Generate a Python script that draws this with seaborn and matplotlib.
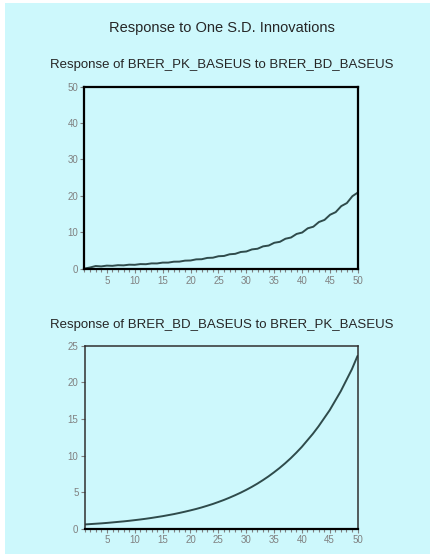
import pandas as pd
import matplotlib.pyplot as plt
import seaborn as sns
from matplotlib.patches import Rectangle
from matplotlib.ticker import MultipleLocator

periods = list(range(1, 51))

# Response of BRER_PK_BASEUS to BRER_BD_BASEUS (wiggly one)
pk_to_bd = [0.00, 0.30, 0.70, 0.60, 0.81, 0.75, 0.93, 0.88, 1.07, 1.03,
            1.23, 1.20, 1.42, 1.41, 1.64, 1.64, 1.89, 1.91, 2.18, 2.22,
            2.53, 2.57, 2.93, 2.99, 3.39, 3.47, 3.93, 4.05, 4.56, 4.70,
            5.27, 5.45, 6.11, 6.33, 7.09, 7.35, 8.20, 8.54, 9.52, 9.91,
            11.07, 11.51, 12.80, 13.38, 14.80, 15.51, 17.17, 18.00, 19.91, 20.93]

# Response of BRER_BD_BASEUS to BRER_PK_BASEUS
bd_to_pk = [0.62, 0.67, 0.72, 0.77, 0.83, 0.90, 0.97, 1.04, 1.12, 1.21,
            1.30, 1.40, 1.51, 1.63, 1.75, 1.89, 2.03, 2.19, 2.36, 2.54,
            2.73, 2.94, 3.17, 3.41, 3.68, 3.96, 4.27, 4.60, 4.95, 5.33,
            5.74, 6.18, 6.66, 7.17, 7.73, 8.32, 8.96, 9.65, 10.4, 11.2,
            12.1, 13.0, 14.0, 15.1, 16.2, 17.5, 18.8, 20.3, 21.8, 23.6]

titulo = "Response to One S.D. Innovations"
sub1 = "Response of BRER_PK_BASEUS to BRER_BD_BASEUS"
sub2 = "Response of BRER_BD_BASEUS to BRER_PK_BASEUS"

bg = "#CDF8FC"
cor_linha = "#2F4B4B"
cor_tick = "#808080"

sns.set_style("ticks")
plt.rcParams["font.family"] = ["Liberation Sans", "DejaVu Sans"]

fig = plt.figure(figsize=(4.31, 5.54), dpi=100)
fig.patch.set_facecolor(bg)
# faixa branca no topo e na esquerda
fig.patches.append(Rectangle((0, 1 - 3 / 554), 1, 3 / 554, transform=fig.transFigure,
                             facecolor="white", edgecolor="none"))
fig.patches.append(Rectangle((0, 0), 5 / 431, 1, transform=fig.transFigure,
                             facecolor="white", edgecolor="none"))

fig.text(222 / 431, 1 - 28 / 554, titulo, ha="center", va="center", fontsize=10.5)
fig.text(222 / 431, 1 - 65 / 554, sub1, ha="center", va="center", fontsize=9.5)
fig.text(222 / 431, 1 - 325 / 554, sub2, ha="center", va="center", fontsize=9.5)

ax1 = fig.add_axes([84.5 / 431, 1 - 269.3 / 554, 273.5 / 431, 182.6 / 554])
ax2 = fig.add_axes([84.7 / 431, 1 - 529 / 554, 272.8 / 431, 183.3 / 554])

df1 = pd.DataFrame({"periodo": periods, "resp": pk_to_bd})
df2 = pd.DataFrame({"periodo": periods, "resp": bd_to_pk})

sns.lineplot(data=df1, x="periodo", y="resp", ax=ax1, color=cor_linha, linewidth=1.4)
sns.lineplot(data=df2, x="periodo", y="resp", ax=ax2, color=cor_linha, linewidth=1.4)

ax1.set_ylim(-0.2, 50)
ax1.yaxis.set_major_locator(MultipleLocator(10))
ax2.set_ylim(0, 25)
ax2.yaxis.set_major_locator(MultipleLocator(5))

for ax, lw, cor in ((ax1, 1.6, "black"), (ax2, 1.1, "#303030")):
    ax.set_facecolor(bg)
    ax.set_xlim(1, 50)
    ax.xaxis.set_major_locator(MultipleLocator(5))
    ax.xaxis.set_minor_locator(MultipleLocator(1))
    ax.set_xlabel("")
    ax.set_ylabel("")
    for s in ax.spines.values():
        s.set_visible(True)
        s.set_color(cor)
        s.set_linewidth(lw)
    ax.spines["bottom"].set_color("black")
    ax.spines["bottom"].set_linewidth(1.6)
    ax.tick_params(axis="both", which="major", direction="out", length=3, width=0.8,
                   color=cor_tick, labelcolor=cor_tick, labelsize=7, pad=1.5)
    ax.tick_params(axis="x", which="minor", direction="out", length=2.5, width=0.8,
                   color=cor_tick)
    ax.grid(False)

fig.savefig("out.png", dpi=100, facecolor=bg)
